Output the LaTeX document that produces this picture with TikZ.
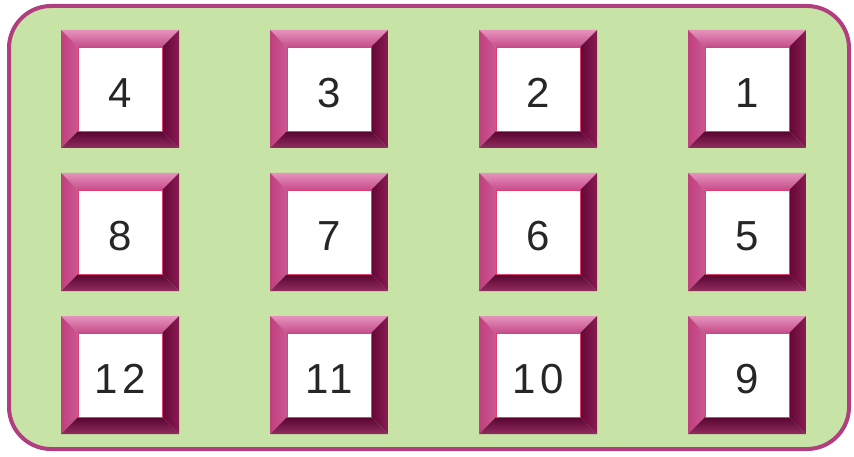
\documentclass[tikz,border=0pt]{standalone}
\usepackage{fontspec}
\setmainfont{Liberation Sans}
\newfontfamily\digitfont[LetterSpace=10]{Liberation Sans}
\definecolor{bg}{HTML}{C8E3A6}
\definecolor{rim}{HTML}{B13F80}
\definecolor{topA}{HTML}{E593BC}
\definecolor{topB}{HTML}{C64C8B}
\definecolor{leftA}{HTML}{C0407F}
\definecolor{leftB}{HTML}{CB5892}
\definecolor{rightA}{HTML}{640636}
\definecolor{rightB}{HTML}{8A1C53}
\definecolor{botA}{HTML}{58042F}
\definecolor{botB}{HTML}{902D60}
\definecolor{innerline}{HTML}{E0406F}
\begin{document}
\begin{tikzpicture}[x=1pt,y=1pt,
  numbox/.style={fill=white, draw=innerline, line width=0.8pt, minimum width=84pt, minimum height=84pt, inner sep=0pt},
  numtext/.style={font=\digitfont\fontsize{42}{42}\selectfont, text=black!85, inner sep=0pt}]
\useasboundingbox (0,0) rectangle (854,456);
\fill[white] (0,0) rectangle (854,456);
\draw[rim, line width=4pt, fill=bg, rounded corners=42pt] (9,7) rectangle (849,450);
\foreach \n/\cx/\cy in {4/120/367, 3/329/367, 2/538/367, 1/747/367,
                        8/120/224, 7/329/224, 6/538/224, 5/747/224,
                        12/120/81, 11/329/81, 10/538/81, 9/747/81}{
  % top bevel
  \shade[top color=topA, bottom color=topB]
    ({\cx-59},{\cy+59}) -- ({\cx+59},{\cy+59}) -- ({\cx+42},{\cy+42}) -- ({\cx-42},{\cy+42}) -- cycle;
  % left bevel
  \shade[left color=leftA, right color=leftB]
    ({\cx-59},{\cy+59}) -- ({\cx-42},{\cy+42}) -- ({\cx-42},{\cy-42}) -- ({\cx-59},{\cy-59}) -- cycle;
  % right bevel
  \shade[left color=rightA, right color=rightB]
    ({\cx+59},{\cy+59}) -- ({\cx+42},{\cy+42}) -- ({\cx+42},{\cy-42}) -- ({\cx+59},{\cy-59}) -- cycle;
  % bottom bevel
  \shade[top color=botA, bottom color=botB]
    ({\cx-59},{\cy-59}) -- ({\cx-42},{\cy-42}) -- ({\cx+42},{\cy-42}) -- ({\cx+59},{\cy-59}) -- cycle;
  \node[numbox] (b\n) at (\cx,\cy) {};
  \node[numtext] (t\n) at ({\cx},{\cy-4}) {\n};
}
\end{tikzpicture}
\end{document}
